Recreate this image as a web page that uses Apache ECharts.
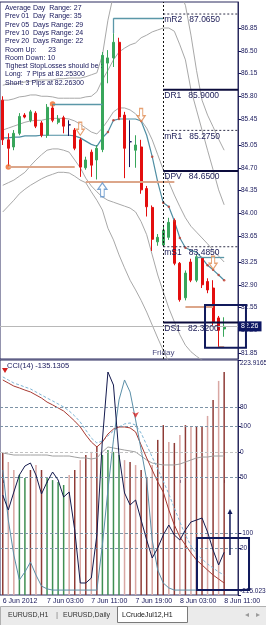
<!DOCTYPE html>
<html><head><meta charset="utf-8">
<script src="https://cdn.jsdelivr.net/npm/echarts@6/dist/echarts.min.js"></script>
<style>html,body{margin:0;padding:0;background:#fff;overflow:hidden}#c{width:266px;height:625px}</style>
</head><body><div id="c"></div>
<script>
const FONT = "'Liberation Sans Narrow','Liberation Sans',Arial,sans-serif";
const INK = '#16165a';

// ---- categories (H1 bars) ----
const times = ['6 Jun 19:00','6 Jun 20:00','6 Jun 21:00','6 Jun 22:00','6 Jun 23:00',
'7 Jun 00:00','7 Jun 01:00','7 Jun 02:00','7 Jun 03:00','7 Jun 04:00','7 Jun 05:00','7 Jun 06:00','7 Jun 07:00',
'7 Jun 08:00','7 Jun 09:00','7 Jun 10:00','7 Jun 11:00','7 Jun 12:00','7 Jun 13:00','7 Jun 14:00','7 Jun 15:00',
'7 Jun 16:00','7 Jun 17:00','7 Jun 18:00','7 Jun 19:00','7 Jun 20:00','7 Jun 21:00','7 Jun 22:00','7 Jun 23:00',
'8 Jun 00:00','8 Jun 01:00','8 Jun 02:00','8 Jun 03:00','8 Jun 04:00','8 Jun 05:00','8 Jun 06:00','8 Jun 07:00',
'8 Jun 08:00','8 Jun 09:00','8 Jun 10:00','8 Jun 11:00','8 Jun 12:00','8 Jun 13:00'];
const tickBars = ['6 Jun 19:00','7 Jun 03:00','7 Jun 11:00','7 Jun 19:00','8 Jun 03:00','8 Jun 11:00'];
const tickLabels = ['6 Jun 2012','7 Jun 03:00','7 Jun 11:00','7 Jun 19:00','8 Jun 03:00','8 Jun 11:00'];

// ---- price panel ----
const open  = [85.74,85.13,85.02,85.23,85.51,85.43,85.54,85.39,85.20,85.62,85.40,85.47,85.36,85.28,85.13,84.70,84.94,84.82,84.98,86.31,86.39,86.63,85.51,85.10,84.97,85.02,84.38,84.09,83.56,83.51,83.63,83.89,83.23,82.70,83.25,82.97,83.31,82.95,82.85,82.39,82.22];
const close = [85.13,85.00,85.23,85.49,85.48,85.56,85.34,85.20,85.63,85.43,85.45,85.34,85.36,85.00,84.71,84.82,84.74,85.00,86.43,86.39,86.63,85.48,85.00,85.10,85.05,84.36,84.10,83.60,83.63,83.74,83.86,83.23,82.67,83.08,82.97,83.33,82.90,82.82,82.33,82.20,82.26];
const high  = [85.80,85.23,85.28,85.54,85.54,85.59,85.57,85.42,85.68,85.68,85.51,85.50,85.43,85.31,85.16,84.87,84.98,85.05,86.48,86.51,86.77,86.70,85.56,85.43,85.20,85.13,84.42,84.12,83.68,83.82,83.93,83.92,83.25,83.12,83.30,83.36,83.33,83.00,82.97,82.42,82.40];
const low   = [85.05,84.71,84.97,85.20,85.46,85.40,85.31,85.17,85.16,85.40,85.37,85.23,85.19,84.97,84.56,84.67,84.56,84.52,84.94,86.00,86.25,85.45,84.54,84.71,84.70,84.30,83.95,83.42,83.50,83.48,83.59,83.20,82.64,82.66,82.94,82.94,82.85,82.77,82.28,81.94,82.10];
const maLine = [85.16,85.16,85.17,85.17,85.19,85.19,85.19,85.20,85.20,85.20,85.20,85.20,85.20,85.19,85.16,85.11,85.06,85.03,85.16,85.25,85.43,85.45,85.45,85.45,85.45,85.42,85.20,84.87,84.48,84.16,84.10,83.88,83.62,83.47,83.43,83.40,83.31,83.20,83.13,83.05,82.97];
const maDotBars = [19,20,21,25,27,28,29,30,31,32,33,37,38,39,40];
const bandUpper2 = [85.97,85.99,85.99,86.00,86.02,86.03,86.05,86.05,86.05,86.05,86.07,86.07,86.08,86.08,86.08,86.10,86.13,86.16,86.43,86.97,87.36,87.67,87.82,87.90,87.97,87.97,87.97,87.97,87.93,87.87,87.77,87.59,87.40,87.20,86.74,86.20,85.74,85.51,85.33,85.14,84.97];
const bandUpper1 = [85.74,85.74,85.76,85.79,85.80,85.82,85.82,85.80,85.80,85.79,85.77,85.77,85.77,85.77,85.77,85.79,85.80,85.87,86.05,86.20,86.36,86.48,86.54,86.59,86.62,86.70,86.74,86.79,86.82,86.85,86.85,86.80,86.59,86.36,85.90,85.59,85.28,84.97,84.67,84.36,84.13];
const bandMid = [85.28,85.31,85.34,85.37,85.40,85.42,85.43,85.43,85.45,85.46,85.46,85.46,85.45,85.42,85.37,85.31,85.25,85.22,85.31,85.43,85.56,85.62,85.62,85.59,85.53,85.43,85.31,85.13,84.90,84.67,84.48,84.28,84.10,83.93,83.80,83.71,83.62,83.53,83.43,83.34,83.25];
const bandLower1 = [84.43,84.47,84.51,84.57,84.63,84.73,84.82,84.90,84.97,84.99,84.99,84.97,84.94,84.82,84.70,84.54,84.42,84.33,84.25,84.20,84.17,84.14,84.11,84.08,84.02,83.87,83.67,83.36,83.05,82.79,82.54,82.33,82.13,81.97,81.87,81.80,81.74,81.71,81.67,81.63,81.59];
const bandLower2 = [84.02,84.11,84.20,84.30,84.37,84.43,84.48,84.53,84.57,84.60,84.63,84.63,84.62,84.57,84.51,84.47,84.33,84.20,84.05,83.77,83.59,83.36,83.16,82.97,82.82,82.66,82.48,82.28,82.08,81.89,81.71,81.56,81.43,81.36,81.31,81.28,81.25,81.22,81.19,81.16,81.13];
const priceTicks = [86.85,86.50,86.15,85.80,85.45,85.05,84.70,84.35,84.00,83.65,83.25,82.90,82.55,82.20,81.85];
const pivotNames = ['mR2','DR1','mR1','DPV','mS1','DS1'];
const pivotPrices = [87.065,85.90,85.275,84.65,83.485,82.32];
const pivotSolid = [false,true,false,true,false,true];
const pivotStart = '8 Jun 00:00';
// support / resistance segments
const segStart = [1,9,15,20,20,33,35,39];
const segEnd   = [13,18,31,29,20,38,40,40];
const segP1    = [84.71,85.68,84.48,87.00,87.00,82.56,83.33,81.94];
const segP2    = [84.71,85.68,84.48,87.00,86.77,82.56,83.33,81.94];
const segKind  = ['sup','res','sup','res','res','sup','res','sup'];
const fractalBars = [1,9];
const fractalPrices = [84.71,85.68];
const sellArrowBars = [14,25,38];
const sellArrowPrices = [85.30,85.51,83.24];
const buyArrowBars = [18];
const buyArrowPrices = [84.36];
const priceBox = {t0:36.54, t1:43.94, hi:82.59, lo:81.93};
const infoLines = ['Average Day  Range: 27','Prev 01  Day  Range: 35','Prev 05  Days Range: 29','Prev 10  Days Range: 24','Prev 20  Days Range: 22','Room Up:      23','Room Down: 10','Tighest StopLosses should be :','Long:  7 Pips at 82.25300','Short: 3 Pips at 82.26300'];

// ---- indicator panel ----
const cciTitle = 'CCI(14) -135.1305';
const cci = [-28.3,-56.3,-22.7,9.1,25.9,31.5,9.1,-26.4,-4.0,14.7,-0.2,-32.0,-22.7,-93.6,-192.6,-192.6,-183.3,-103.0,74.5,201.5,177.2,46.4,-24.5,-46.9,-37.6,-75.0,-112.3,-145.9,-127.3,-103.0,-84.3,-103.0,-112.3,-93.6,-78.7,-75.0,-71.2,-97.4,-131.0,-159.0,-135.1];
const stochMain = [53.2,31.9,17.0,6.4,9.8,14.0,8.5,3.8,2.6,2.1,2.1,2.1,2.1,2.1,2.1,2.1,2.1,2.1,21.3,44.7,66.0,83.0,91.5,86.4,74.5,61.7,48.9,23.4,10.6,5.1,3.0,2.1,2.1,2.1,2.1,2.1,2.1,2.1,2.1,2.1,2.1];
const signalRed = [91.5,90.2,88.9,88.1,87.2,86.4,85.1,83.8,82.1,80.9,79.6,78.3,76.2,74.0,71.5,68.1,65.1,63.0,65.1,68.5,70.6,71.5,71.5,71.1,69.4,63.8,58.3,53.2,48.1,43.8,36.2,29.8,24.7,21.3,17.9,14.9,12.8,10.6,8.5,6.8,5.1];
const signalDash = [92.8,91.5,90.2,89.4,88.5,87.7,86.4,85.1,83.8,82.6,81.3,80.0,78.3,76.2,73.6,70.2,66.8,64.7,65.5,67.7,69.8,71.5,72.8,73.2,72.3,68.9,63.8,58.7,53.6,48.5,43.0,37.0,31.1,25.5,20.9,17.4,15.3,13.2,11.5,9.8,8.5];
const momentum = [-0.9,-2.0,-3.1,-3.1,-3.1,-3.1,-3.1,-3.1,-3.1,-4.2,-4.2,-4.2,-4.2,-5.3,-6.3,-6.3,-7.4,-6.3,0.2,5.6,4.5,3.4,2.3,1.3,0.2,-4.2,-8.5,-11.8,-12.9,-13.9,-13.9,-13.9,-12.9,-10.7,-8.5,-6.3,-5.3,-5.3,-4.2,-4.2,-4.2];
const hist = [60.4,56.6,53.2,51.1,49.8,53.2,55.3,53.2,49.8,48.9,48.1,46.8,51.1,53.2,57.4,59.6,60.9,63.4,59.6,61.7,60.9,59.6,57.4,56.6,55.3,53.2,50.2,55.3,66.0,72.3,65.1,64.7,68.1,72.3,71.5,71.5,71.5,76.2,83.0,91.1,94.9];
const histKind = ['d','l','l','g','g','d','l','d','g','g','g','g','l','d','l','d','l','d','g','g','g','g','l','d','l','d','d','l','d','d','l','d','l','d','l','d','d','l','d','l','d'];
const cciMax = 223.9165, cciMin = -215.023;
const cciLevels = [100,-100];
const stochTicks = [80,50,20];
const momTicks = [0];
const signalMarkBars = [24];
const signalMarkVals = [75.3];
const cciBox = {t0:35.09, t1:44.49, hi:-108.6, lo:-205.7};
const cciArrow = {t:41.05, from:-140.3, to:-56.3};
const tabs = ['EURUSD,H1','EURUSD,Daily','LCrudeJul12,H1'];

const chart = echarts.init(document.getElementById('c'), null, {renderer:'canvas'});
const histColors = {d:'#8e3b36', l:'#d9a7a3', g:'#3f8f52'};
const segColors = {sup:'#dca68a', res:'#5b97a8'};

function xAt(api, t){
  const b = Math.min(Math.floor(t), times.length-1);
  const c0 = api.coord([b, 0])[0];
  const bw = api.coord([1, 0])[0] - api.coord([0, 0])[0];
  return c0 + (t - b) * bw;
}

const lineBase = {symbol:'none', silent:true, animation:false};
const arrowPath = 'path://M3,0 L7,0 L7,6 L10,6 L5,11 L0,6 L3,6 Z';
const lblBase = {fontSize:6.5, color:INK, margin:2, fontFamily:FONT};
function cciAxis(ticks, show, vAlign){
  return {type:'value', gridIndex:1, position:'right', min:cciMin, max:cciMax, splitLine:{show:false},
    axisLine:{show:show, lineStyle:{color:'#2a2a5e'}},
    axisTick:{show:true, length:3, customValues:ticks, lineStyle:{color:INK}},
    axisLabel:Object.assign({customValues:ticks, formatter:(v)=>String(v), verticalAlign:vAlign}, lblBase)};
}

const option = {
  animation:false,
  backgroundColor:'#ffffff',
  textStyle:{fontFamily:FONT},
  grid:[
    {left:0, top:2, width:238, height:357, show:true, borderColor:'#2a2a5e', borderWidth:1, backgroundColor:'#fff', containLabel:false, outerBoundsMode:'none'},
    {left:0, top:360, width:238, height:235, show:true, borderColor:'#2a2a5e', borderWidth:1, backgroundColor:'#fff', containLabel:false, outerBoundsMode:'none'}
  ],
  xAxis:[
    {type:'category', gridIndex:0, data:times, boundaryGap:true, axisLine:{show:false}, axisTick:{show:false}, axisLabel:{show:false}, splitLine:{show:false}},
    {type:'category', gridIndex:1, data:times, boundaryGap:true, axisLine:{show:false},
     axisTick:{show:true, alignWithLabel:true, length:3, interval:(i)=>tickBars.includes(times[i]), lineStyle:{color:INK}},
     axisLabel:{show:true, interval:(i)=>tickBars.includes(times[i]), formatter:(v)=>tickLabels[tickBars.indexOf(v)], align:'left', margin:3, fontSize:7, color:INK, fontFamily:FONT, hideOverlap:false},
     splitLine:{show:false}}
  ],
  yAxis:[
    {type:'value', gridIndex:0, position:'right', min:81.758, max:87.25, splitLine:{show:false},
     axisLine:{show:true, lineStyle:{color:'#2a2a5e'}},
     axisTick:{show:true, length:3, customValues:priceTicks, lineStyle:{color:INK}},
     axisLabel:Object.assign({customValues:priceTicks, formatter:(v)=>v.toFixed(2)}, lblBase, {margin:3})},
    cciAxis(cciLevels, true, 'middle'),
    {type:'value', gridIndex:1, position:'right', min:0, max:100, splitLine:{show:false},
     axisLine:{show:false}, axisTick:{show:true, length:3, customValues:stochTicks, lineStyle:{color:INK}},
     axisLabel:Object.assign({customValues:stochTicks, formatter:(v)=>String(v)}, lblBase)},
    {type:'value', gridIndex:1, position:'right', min:-155, max:100, splitLine:{show:false},
     axisLine:{show:false}, axisTick:{show:true, length:3, customValues:momTicks, lineStyle:{color:INK}},
     axisLabel:Object.assign({customValues:momTicks, formatter:(v)=>String(v)}, lblBase)},
    cciAxis([cciMax], false, 'top'),
    cciAxis([cciMin], false, 'bottom')
  ],
  graphic:[
    {type:'text', left:5, top:4, z:100, style:{text:infoLines.join('\n'), fill:INK, fontSize:7, lineHeight:8.3, fontFamily:FONT}},
    {type:'text', left:7, top:362, z:100, style:{text:cciTitle, fill:INK, fontSize:7.5, fontFamily:FONT}},
    {type:'polygon', z:101, shape:{points:[[2,368],[8,368],[5,373]]}, style:{fill:'#d42020'}},
    {type:'rect', left:0, top:606, z:90, shape:{width:266, height:19}, style:{fill:'#ebebeb', stroke:'#b0b0b0', lineWidth:1}},
    {type:'text', left:8, top:612, z:100, style:{text:tabs[0], fill:'#333', fontSize:7, fontFamily:FONT}},
    {type:'text', left:56, top:611, z:100, style:{text:'|', fill:'#777', fontSize:8, fontFamily:FONT}},
    {type:'text', left:63, top:612, z:100, style:{text:tabs[1], fill:'#333', fontSize:7, fontFamily:FONT}},
    {type:'rect', left:117, top:606, z:95, shape:{width:70, height:16}, style:{fill:'#ffffff', stroke:'#7a7a7a', lineWidth:1}},
    {type:'text', left:122, top:612, z:100, style:{text:tabs[2], fill:'#111', fontSize:7, fontFamily:FONT}},
    {type:'text', left:245, top:611, z:100, style:{text:'◂', fill:'#9a9a9a', fontSize:8, fontFamily:'DejaVu Sans'}},
    {type:'text', left:256, top:611, z:100, style:{text:'▸', fill:'#9a9a9a', fontSize:8, fontFamily:'DejaVu Sans'}}
  ],
  series:[
    ...[bandUpper2, bandUpper1, bandMid, bandLower1, bandLower2].map(d=>Object.assign({type:'line', xAxisIndex:0, yAxisIndex:0, data:d, z:1, lineStyle:{color:'#a8a8a8', width:1}}, lineBase)),
    Object.assign({type:'line', name:'MA', xAxisIndex:0, yAxisIndex:0, data:maLine, z:2, lineStyle:{color:'#4f8ea3', width:1.2},
      markLine:{symbol:['none','none'], silent:true, animation:false, label:{show:false},
        data: segStart.map((s,k)=>[{coord:[s, segP1[k]], lineStyle:{color:segColors[segKind[k]], width:segKind[k]==='sup'?2:1.3, type:'solid'}}, {coord:[segEnd[k], segP2[k]]}])}}, lineBase),
    {type:'candlestick', name:'LCrudeJul12,H1', xAxisIndex:0, yAxisIndex:0, z:3, barWidth:2.5,
     data: open.map((o,i)=>[o, close[i], low[i], high[i]]),
     itemStyle:{color:'#38a65b', color0:'#e30e0e', borderColor:'#38a65b', borderColor0:'#e30e0e', borderColorDoji:'#16165a', borderWidth:1},
     markLine:{symbol:['none','none'], silent:true, animation:false,
       data:[
         {xAxis:pivotStart, lineStyle:{color:'#111', width:1, type:[2,2]}, label:{show:false}},
         {yAxis:close[close.length-1], lineStyle:{color:'#b8b8b8', width:1, type:'solid'},
          label:{show:true, position:'end', distance:0, formatter:close[close.length-1].toFixed(2), backgroundColor:'#0d1663', color:'#fff', fontSize:7, padding:[2,3,1,3], fontFamily:FONT}}
       ]}},
    {type:'scatter', xAxisIndex:0, yAxisIndex:0, z:4, silent:true, data:maDotBars.map(i=>[i, maLine[i]]), symbolSize:2.5, itemStyle:{color:'#c43a2a'}},
    {type:'scatter', xAxisIndex:0, yAxisIndex:0, z:4, silent:true, data:fractalBars.map((b,k)=>[b, fractalPrices[k]]), symbolSize:5.5, itemStyle:{color:'#f06a28'}},
    {type:'scatter', xAxisIndex:0, yAxisIndex:0, z:5, silent:true, data:sellArrowBars.map((b,k)=>[b, sellArrowPrices[k]]), symbol:arrowPath, symbolSize:[8,13], itemStyle:{color:'rgba(255,255,255,0.6)', borderColor:'#e0894f', borderWidth:1.2}},
    {type:'scatter', xAxisIndex:0, yAxisIndex:0, z:5, silent:true, data:buyArrowBars.map((b,k)=>[b, buyArrowPrices[k]]), symbol:arrowPath, symbolRotate:180, symbolSize:[9,14], itemStyle:{color:'rgba(255,255,255,0.6)', borderColor:'#5a8ec8', borderWidth:1.2}},
    {type:'scatter', xAxisIndex:0, yAxisIndex:0, z:5, silent:true, data:[[pivotStart, 81.85]], symbolSize:0,
     label:{show:true, position:'inside', formatter:'Friday', color:INK, fontSize:8, fontFamily:FONT}},
    {type:'custom', xAxisIndex:0, yAxisIndex:0, z:6, silent:true, clip:false,
     data: pivotPrices.map(p=>[pivotStart, p]),
     renderItem:(params, api)=>{
       const k = params.dataIndex;
       const p = api.coord([times.indexOf(pivotStart), pivotPrices[k]]);
       const right = params.coordSys.x + params.coordSys.width;
       return {type:'group', children:[
         {type:'line', shape:{x1:p[0], y1:p[1], x2:right, y2:p[1]}, style:{stroke:pivotSolid[k]?'#0c0c3c':'#30304a', lineWidth:pivotSolid[k]?2:1, lineDash:pivotSolid[k]?null:[2,2]}},
         {type:'text', x:p[0]+1, y:p[1]+1.5, style:{text:pivotNames[k]+'   '+pivotPrices[k].toFixed(4), fill:'#1a1a55', fontSize:8.5, fontFamily:"'Liberation Sans',Arial,sans-serif", verticalAlign:'top', align:'left'}}
       ]};
     }},
    {type:'custom', xAxisIndex:0, yAxisIndex:0, z:7, silent:true, clip:false, data:[[0, priceBox.hi]],
     renderItem:(params, api)=>{
       const x0 = xAt(api, priceBox.t0), x1 = xAt(api, priceBox.t1);
       const y0 = api.coord([0, priceBox.hi])[1], y1 = api.coord([0, priceBox.lo])[1];
       return {type:'rect', shape:{x:x0, y:y0, width:x1-x0, height:y1-y0}, style:{fill:'none', stroke:'#111a5c', lineWidth:2}};
     }},

    // ---- indicator panel ----
    {type:'bar', xAxisIndex:1, yAxisIndex:2, z:1, silent:true, barWidth:1.5, data:hist,
     itemStyle:{color:(p)=>histColors[histKind[p.dataIndex]]}},
    Object.assign({type:'line', xAxisIndex:1, yAxisIndex:3, data:momentum, z:2, lineStyle:{color:'#a0a0a0', width:1},
      markLine:{symbol:['none','none'], silent:true, animation:false, label:{show:false}, lineStyle:{color:'#c2c2c2', type:[3,2], width:1}, data:momTicks.map(v=>({yAxis:v}))}}, lineBase),
    Object.assign({type:'line', xAxisIndex:1, yAxisIndex:2, data:signalDash, z:3, lineStyle:{color:'#7fb6d6', width:1, type:[3,2]}}, lineBase),
    Object.assign({type:'line', xAxisIndex:1, yAxisIndex:2, data:signalRed, z:3, lineStyle:{color:'#a83a32', width:1},
      markLine:{symbol:['none','none'], silent:true, animation:false, label:{show:false}, lineStyle:{color:'#7d93a6', type:[3,2], width:1}, data:stochTicks.map(v=>({yAxis:v}))}}, lineBase),
    Object.assign({type:'line', xAxisIndex:1, yAxisIndex:2, data:stochMain, z:4, lineStyle:{color:'#5b8fa8', width:1}}, lineBase),
    Object.assign({type:'line', xAxisIndex:1, yAxisIndex:1, data:cci, z:5, lineStyle:{color:'#141a4e', width:1},
      markLine:{symbol:['none','none'], silent:true, animation:false, label:{show:false}, lineStyle:{color:'#7d93a6', type:[3,2], width:1}, data:cciLevels.map(v=>({yAxis:v}))}}, lineBase),
    {type:'scatter', xAxisIndex:1, yAxisIndex:2, z:6, silent:true, data:signalMarkBars.map((b,k)=>[b, signalMarkVals[k]]), symbol:'arrow', symbolRotate:180, symbolSize:[5,6], itemStyle:{color:'#d42020'}},
    {type:'custom', xAxisIndex:1, yAxisIndex:1, z:7, silent:true, clip:false, data:[[0, cciBox.hi]],
     renderItem:(params, api)=>{
       const x0 = xAt(api, cciBox.t0), x1 = xAt(api, cciBox.t1);
       const y0 = api.coord([0, cciBox.hi])[1], y1 = api.coord([0, cciBox.lo])[1];
       const ax = xAt(api, cciArrow.t);
       const ya = api.coord([0, cciArrow.from])[1], yb = api.coord([0, cciArrow.to])[1];
       return {type:'group', children:[
         {type:'rect', shape:{x:x0, y:y0, width:x1-x0, height:y1-y0}, style:{fill:'none', stroke:'#111a5c', lineWidth:2}},
         {type:'line', shape:{x1:ax, y1:ya, x2:ax, y2:yb+3}, style:{stroke:'#111a5c', lineWidth:1.5}},
         {type:'polygon', shape:{points:[[ax-2.5, yb+4],[ax+2.5, yb+4],[ax, yb-1]]}, style:{fill:'#111a5c'}}
       ]};
     }}
  ]
};
chart.setOption(option);
</script>
</body></html>
